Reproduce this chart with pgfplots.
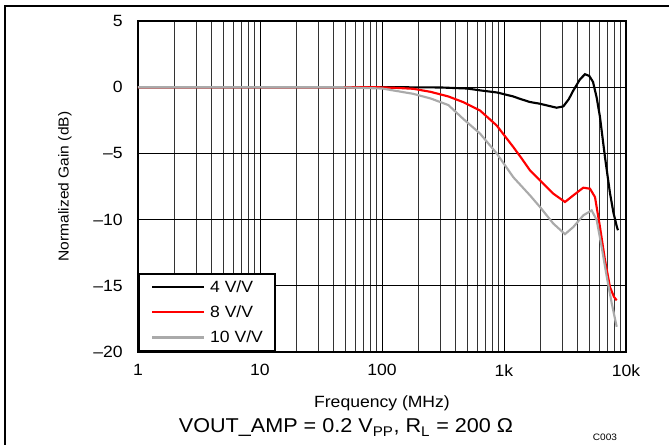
\documentclass[border=0pt]{standalone}
\usepackage{fontspec}
\setmainfont{Liberation Sans}[FakeStretch=1.08]
\usepackage{pgfplots}
\pgfplotsset{compat=1.18}
\definecolor{curvegray}{RGB}{170,170,170}
\definecolor{curvered}{RGB}{255,0,0}
\begin{document}
\begin{tikzpicture}
\path[use as bounding box] (0pt,0pt) rectangle (501.75pt,333.75pt);
\draw[line width=1.1pt] (3.75pt,0pt) -- (3.75pt,329.25pt) -- (501.75pt,329.25pt);
\begin{axis}[
  at={(103.5pt,69.75pt)}, anchor=south west,
  scale only axis, width=366pt, height=248.25pt,
  xmode=log, xmin=1, xmax=10000, ymin=-20, ymax=5,
  xtick={1,10,100,1000,10000}, xticklabels={1,10,100,1k,10k},
  ytick={-20,-15,-10,-5,0,5},
  yticklabels={\textendash20,\textendash15,\textendash10,\textendash5,0,5},
  grid=both,
  major grid style={black, line width=0.6pt},
  minor grid style={black!80, line width=0.6pt},
  axis line style={line width=1.5pt},
  major tick length=0pt, minor tick length=0pt,
  tick style={draw=none},
  ticklabel style={font=\fontsize{12.2}{14}\selectfont},
  xticklabel style={anchor=north, inner sep=0pt, yshift=-9pt},
  yticklabel style={anchor=east, inner sep=0pt, xshift=-11.25pt},
  xlabel={Frequency (MHz)},
  ylabel={Normalized Gain (dB)},
  xlabel style={at={(axis description cs:0.5,0)}, anchor=center, yshift=-38.25pt, font=\fontsize{12.2}{14}\selectfont},
  ylabel style={at={(axis description cs:0,0.5)}, anchor=center, rotate=0, yshift=54.75pt, font=\fontsize{10.8}{13}\selectfont},
  legend image code/.code={\draw[#1] (0pt,0pt) -- (39pt,0pt);},
  legend style={at={(0,0)}, anchor=south west, draw=black, line width=1.5pt, fill=white,
    font=\fontsize{12.2}{14}\selectfont, inner xsep=9pt, inner ysep=5pt,
    nodes={inner sep=0pt}, column sep=3.75pt, row sep=8.5pt},
  legend cell align=left,
]
\addplot[black, line width=1.6pt] coordinates {
(1,0) (100,0) (300,-0.02) (500,-0.1) (650,-0.25) (877,-0.4) (1192,-0.7) (1352,-0.88)
(1633,-1.12) (1973,-1.25) (2300,-1.4) (2704,-1.55) (3063,-1.45) (3400,-0.9) (3700,-0.25)
(4200,0.6) (4613,0.98) (5000,0.85) (5366,0.4) (5754,-0.8) (6121,-2.26) (6729,-5.3)
(7392,-8.0) (7900,-9.5) (8200,-10.1) (8390,-10.5) (8600,-10.8)
};
\addlegendentry{4 V/V}
\addplot[curvered, line width=1.6pt] coordinates {
(1,0) (90,0) (130,-0.05) (180,-0.12) (250,-0.35) (350,-0.7) (464,-1.13) (636,-1.76)
(871,-2.89) (1192,-4.52) (1400,-5.4) (1633,-6.28) (1973,-7.04) (2536,-8.04) (3162,-8.67)
(3700,-8.17) (4467,-7.59) (5070,-7.67) (5571,-8.3) (6121,-10.56) (6729,-13.07)
(7392,-15.1) (7976,-15.84) (8390,-16.1)
};
\addlegendentry{8 V/V}
\addplot[curvegray, line width=1.6pt] coordinates {
(1,0) (45,0) (100,-0.1) (180,-0.5) (250,-0.85) (350,-1.35) (464,-2.4) (636,-3.5)
(871,-5.0) (1192,-6.8) (1633,-8.17) (1973,-9.05) (2536,-10.3) (3162,-11.1) (3700,-10.56)
(4467,-9.68) (5235,-9.3) (5754,-10.05) (6319,-12.07) (6950,-14.3) (7633,-16.3) (8390,-18.1)
};
\addlegendentry{10 V/V}
\end{axis}
\node[font=\fontsize{15}{18}\selectfont, anchor=center] at (259.5pt,12.75pt)
  {VOUT\_AMP = 0.2 V\textsubscript{PP}, R\textsubscript{L} = 200 Ω};
\node[font=\fontsize{7}{8}\selectfont, anchor=center] at (453.75pt,6pt) {C003};
\end{tikzpicture}
\end{document}
